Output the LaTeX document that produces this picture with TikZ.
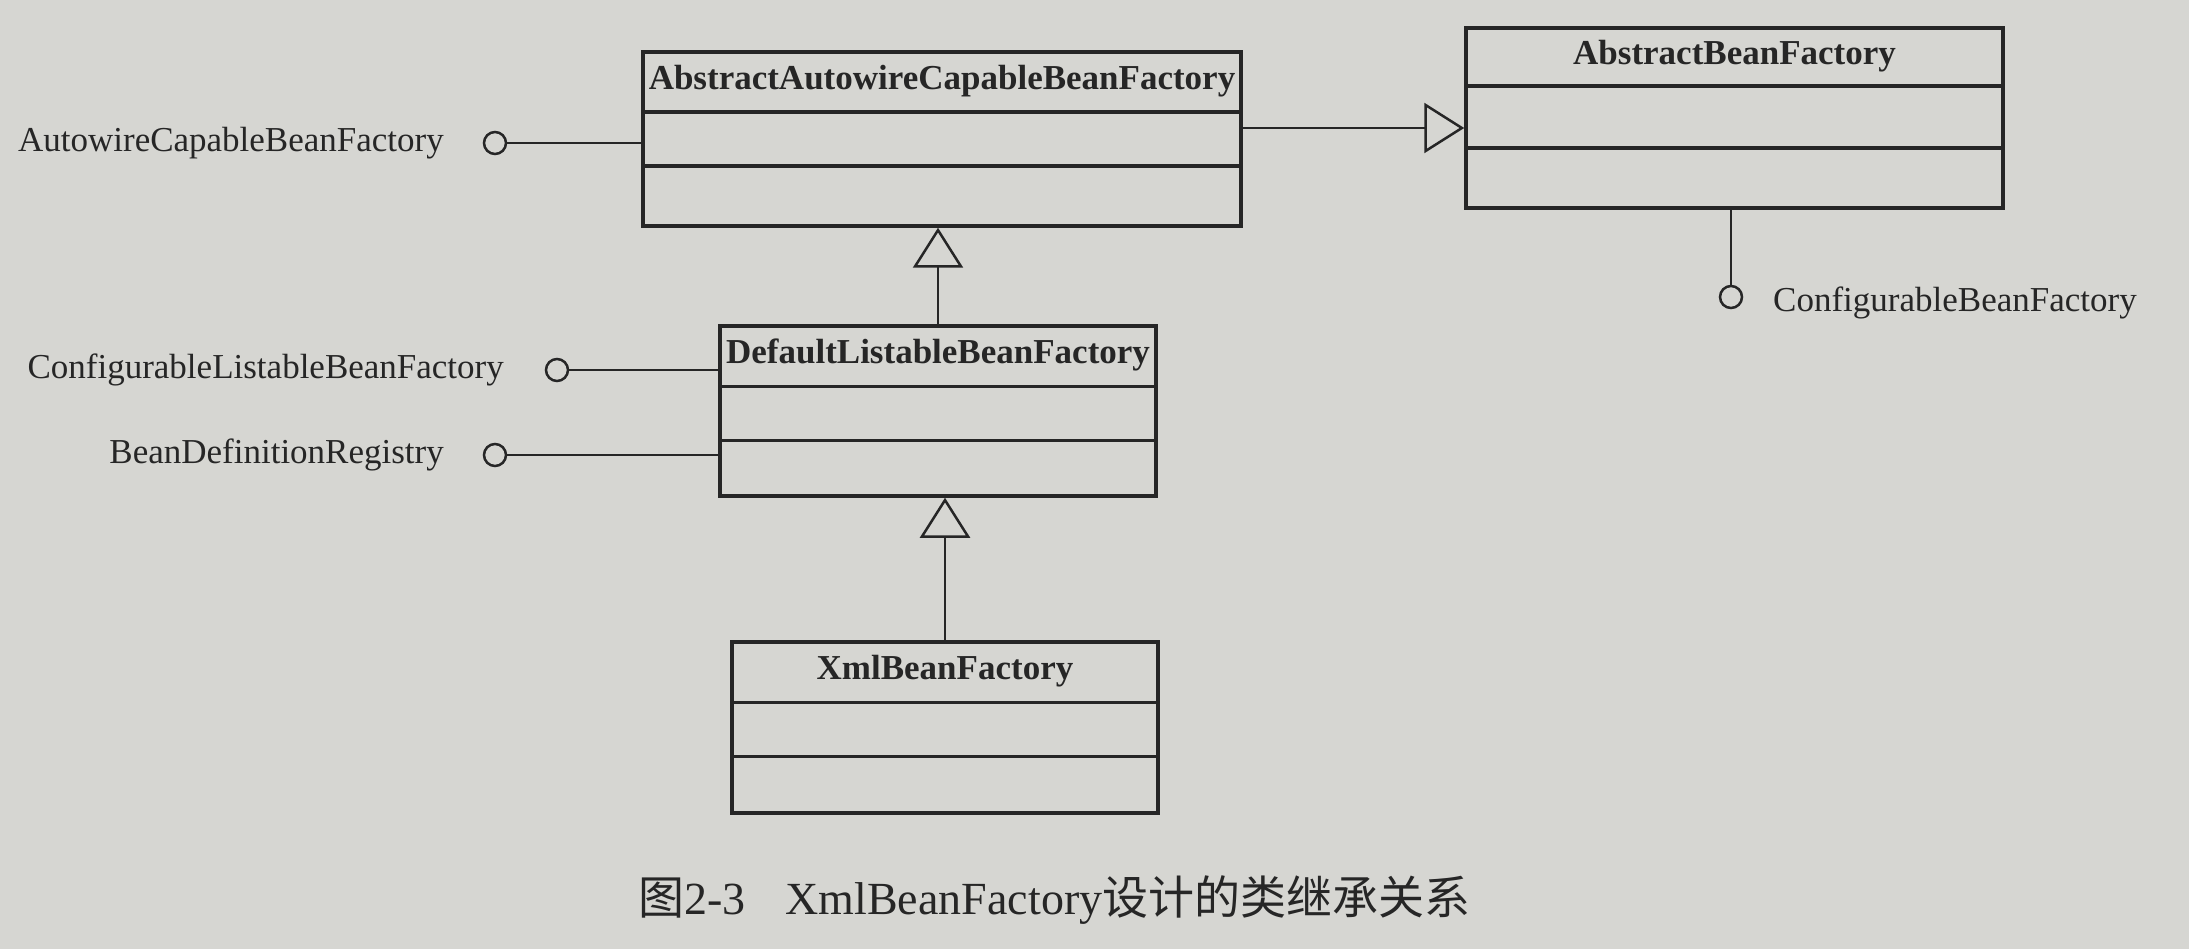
\documentclass[tikz,border=0pt]{standalone}
\usepackage{fontspec}
\setmainfont{Liberation Serif}
\newfontfamily\cjk{Noto Sans CJK SC}
\usetikzlibrary{arrows.meta,calc}
\definecolor{paper}{RGB}{214,214,210}
\definecolor{ink}{RGB}{38,38,38}
\begin{document}
\begin{tikzpicture}[x=1pt,y=-1pt,
  classbox/.style={draw=ink,line width=3.5pt,rectangle,inner sep=0pt},
  divider/.style={draw=ink,line width=3.5pt},
  classtitle/.style={text=ink,font=\fontsize{35}{42}\selectfont\bfseries,inner sep=0pt},
  iface/.style={text=ink,font=\fontsize{35}{42}\selectfont,inner sep=0pt},
  lolly/.style={draw=ink,line width=2.5pt,circle,minimum size=22pt,inner sep=0pt},
  conn/.style={draw=ink,line width=2.5pt},
  inherit/.style={draw=ink,line width=2.5pt,-{Triangle[open,length=40pt,width=50pt,line width=2.5pt]}}]
\fill[paper] (0,0) rectangle (2189,949);
\useasboundingbox (0,0) rectangle (2189,949);

% class boxes
\node[classbox,minimum width=598pt,minimum height=174pt] (aacbf) at (942,139) {};
\node[classbox,minimum width=537pt,minimum height=180pt] (abf) at (1734.5,118) {};
\node[classbox,minimum width=436pt,minimum height=170pt] (dlbf) at (938,411) {};
\node[classbox,minimum width=426pt,minimum height=171pt] (xbf) at (945,727.5) {};

% dividers
\draw[divider] ($(aacbf.north west)+(0,62)$) -- ($(aacbf.north east)+(0,62)$);
\draw[divider] ($(aacbf.north west)+(0,116)$) -- ($(aacbf.north east)+(0,116)$);
\draw[divider] ($(abf.north west)+(0,60)$) -- ($(abf.north east)+(0,60)$);
\draw[divider] ($(abf.north west)+(0,122)$) -- ($(abf.north east)+(0,122)$);
\draw[divider] ($(dlbf.north west)+(0,62)$) -- ($(dlbf.north east)+(0,62)$);
\draw[divider] ($(dlbf.north west)+(0,116)$) -- ($(dlbf.north east)+(0,116)$);
\draw[divider] ($(xbf.north west)+(0,62)$) -- ($(xbf.north east)+(0,62)$);
\draw[divider] ($(xbf.north west)+(0,116)$) -- ($(xbf.north east)+(0,116)$);

% titles
\node[classtitle] (aacbf-t) at ($(aacbf.north)+(0,31)$) {AbstractAutowireCapableBeanFactory};
\node[classtitle] (abf-t) at ($(abf.north)+(0,30)$) {AbstractBeanFactory};
\node[classtitle] (dlbf-t) at ($(dlbf.north)+(0,31)$) {DefaultListableBeanFactory};
\node[classtitle] (xbf-t) at ($(xbf.north)+(0,31)$) {XmlBeanFactory};

% interfaces (lollipops)
\node[lolly] (c1) at (495,143) {};
\node[iface,anchor=east] (i1) at (444,143) {AutowireCapableBeanFactory};
\draw[conn] (c1.east) -- (c1.east -| aacbf.west);

\node[lolly] (c2) at (557,370) {};
\node[iface,anchor=east] (i2) at (504,370) {ConfigurableListableBeanFactory};
\draw[conn] (c2.east) -- (c2.east -| dlbf.west);

\node[lolly] (c3) at (495,455) {};
\node[iface,anchor=east] (i3) at (444,455) {BeanDefinitionRegistry};
\draw[conn] (c3.east) -- (c3.east -| dlbf.west);

\node[lolly] (c4) at (1731,297) {};
\node[iface,anchor=west] (i4) at (1773,303) {ConfigurableBeanFactory};
\draw[conn] (c4.north) -- (c4.north |- abf.south);

% inheritance
\coordinate (g1) at ($(aacbf.east)+(0,-11)$);
\draw[inherit] (g1) -- (g1 -| abf.west);
\draw[inherit] (dlbf.north) -- (dlbf.north |- aacbf.south);
\draw[inherit] (xbf.north) -- (xbf.north |- dlbf.south);

% caption
\node[text=ink,anchor=west,inner sep=0pt,font=\fontsize{46}{54}\selectfont] (cap) at (638,900)
  {{\cjk 图}2-3\hspace{40pt}XmlBeanFactory{\cjk 设计的类继承关系}};
\end{tikzpicture}
\end{document}
